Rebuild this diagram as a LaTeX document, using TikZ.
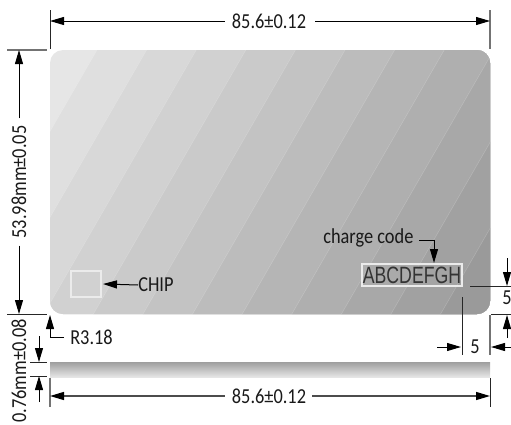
\documentclass[tikz,border=0pt]{standalone}
\usepackage{fontspec}
\setmainfont[FakeStretch=0.86]{Carlito}
\newfontfamily\helv[FakeStretch=0.75]{Liberation Sans}
\usetikzlibrary{arrows.meta}
\tikzset{
  dimline/.style={line width=0.75pt,black},
  dimarrow/.style={dimline,-{Triangle[length=10.5pt,width=6pt,color=black,fill=black]}},
  ticka/.style={line width=0.75pt,black!85},
  tickb/.style={line width=1.1pt,black!55},
  lbl/.style={inner sep=0pt,font=\fontsize{16}{18}\selectfont,text=black!90},
  marker/.style={draw=white!92!black,line width=0.9pt},
}
\definecolor{b0}{HTML}{E6E6E6}\definecolor{b1}{HTML}{DFDFDF}\definecolor{b2}{HTML}{D8D8D8}
\definecolor{b3}{HTML}{D1D1D1}\definecolor{b4}{HTML}{CACACA}\definecolor{b5}{HTML}{C3C3C3}
\definecolor{b6}{HTML}{BCBCBC}\definecolor{b7}{HTML}{B5B5B5}\definecolor{b8}{HTML}{AFAFAF}
\definecolor{b9}{HTML}{A8A8A8}\definecolor{b10}{HTML}{A1A1A1}\definecolor{b11}{HTML}{9A9A9A}
\begin{document}
\begin{tikzpicture}[x=0.75pt,y=-0.75pt]
\useasboundingbox (0,0) rectangle (511,425);
% card
\begin{scope}
  \clip[rounded corners=9.75pt] (50,50) rectangle (490,314);
  \fill[b0] (40,40) rectangle (500,320);
  \foreach \k in {0,...,10}{
    \pgfmathtruncatemacro{\n}{\k+1}
    \pgfmathsetmacro{\xa}{97+49.6*\k}
    \fill[b\n] (\xa,50) -- ++(-152.4,264) -- ++(1000,0) -- ++(0,-264) -- cycle;
    \draw[white,opacity=0.2,line width=0.4pt] (\xa,50) -- ++(-152.4,264);
  }
\end{scope}
% side view
\shade[top color=black!38,bottom color=black!10] (50,362) rectangle (490,377);
% markers
\node[marker,minimum width=22.5pt,minimum height=19.5pt,inner sep=0pt] (chip) at (86,284) {};
\node[marker,fill=black!30,fill opacity=0.2,text opacity=1,minimum width=75pt,minimum height=16.5pt,text height=12.8pt,text depth=0pt,inner sep=0pt,font=\helv\fontsize{17.7}{19}\selectfont,text=black!80] (code) at (412,275) {ABCDEFGH};
\node[lbl,anchor=west] (chiplbl) at (138,285) {CHIP};
\node[lbl,anchor=west] (chargelbl) at (323,238) {charge code};
\node[lbl,anchor=west] (rlbl) at (70,337) {R3.18};
\node[lbl] (top) at (269,21) {85.6±0.12};
\node[lbl] (bot) at (269,396) {85.6±0.12};
\node[lbl,rotate=90] (h) at (19,182) {53.98mm±0.05};
\node[lbl,rotate=90] (t) at (19,371) {0.76mm±0.08};
\node[lbl] (five1) at (475,347) {5};
\node[lbl] (five2) at (507,298) {5};
% top dim
\coordinate (tl) at (50,21); \coordinate (tr) at (490,21);
\draw[ticka] (50,10) -- (50,49);
\draw[tickb] (490,10) -- (490,49);
\draw[dimarrow] (top.west)++(-7,0) -- (tl);
\draw[dimarrow] (top.east)++(9,0) -- (tr);
% left dim
\coordinate (lt) at (19,50); \coordinate (lb) at (19,314);
\draw[tickb] (7,50) -- (47,50);
\draw[ticka] (7,314) -- (47,314);
\draw[dimarrow] (h.east)++(0,-7) -- (lt);
\draw[dimarrow] (h.west)++(0,7) -- (lb);
% R3.18
\coordinate (rt) at (50,315);
\draw[dimarrow] (rlbl.west)++(-6,0) -| (rt);
% thickness
\coordinate (ta) at (39,362); \coordinate (tb) at (39,376);
\draw[ticka] (30,362) -- (47,362);
\draw[ticka] (30,376) -- (47,376);
\draw[dimarrow] (39,336) -- (ta);
\draw[dimarrow] (39,402) -- (tb);
% bottom dim
\coordinate (bl) at (50,396); \coordinate (br) at (490,396);
\draw[tickb] (50,378) -- (50,407);
\draw[ticka] (490,378) -- (490,407);
\draw[dimarrow,line width=1pt,draw=black!70] (bot.west)++(-7,0) -- (bl);
\draw[dimarrow,line width=1pt,draw=black!70] (bot.east)++(6,0) -- (br);
% chip & charge code
\coordinate (chipr) at (103,284);
\draw[dimarrow] (chiplbl.west) -- (chipr);
\coordinate (codet) at (434,263);
\draw[dimarrow] (419,240) -| (codet);
% right dims
\coordinate (ra) at (507,286); \coordinate (rb) at (507,315);
\draw[ticka] (470,286) -- (511,286);
\draw[ticka] (491,314) -- (511,314);
\draw[dimarrow] (507,258) -- (ra);
\draw[dimarrow] (507,338) -- (rb);
\coordinate (ha) at (461,347); \coordinate (hb) at (491,347);
\draw[ticka] (462,297) -- (462,355);
\draw[tickb] (490,315) -- (490,355);
\draw[dimarrow] (437,347) -- (ha);
\draw[dimarrow] (511,347) -- (hb);
\end{tikzpicture}
\end{document}
